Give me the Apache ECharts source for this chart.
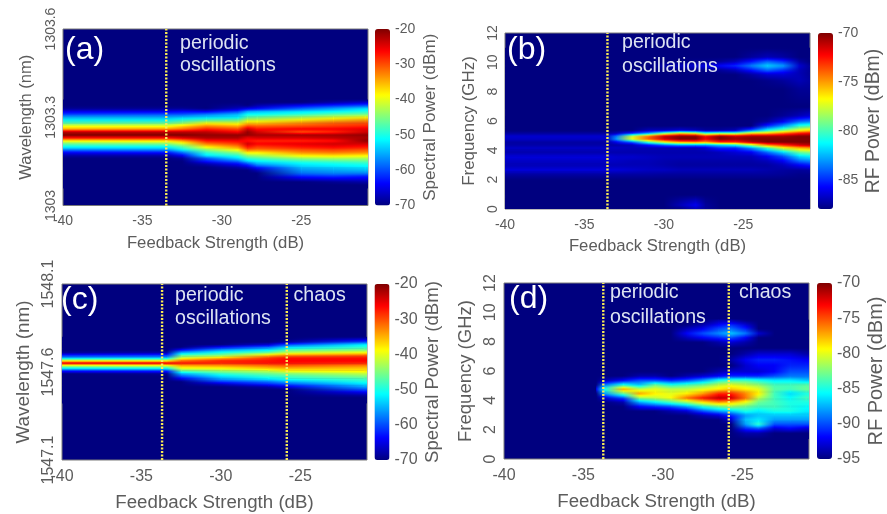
<!DOCTYPE html>
<html><head><meta charset="utf-8">
<style>html,body{margin:0;padding:0;background:#fff}#c{width:887px;height:514px;filter:blur(0.7px)}</style>
<script src="https://cdn.jsdelivr.net/npm/echarts@6/dist/echarts.min.js"></script></head>
<body><div id="c"></div>
<script>
const xTicks=[-40,-35,-30,-25];
const jet=['#00007f','#0000ff','#007fff','#00ffff','#7fff7f','#ffff00','#ff7f00','#ff0000','#7f0000'];

// (a) feedback columns, wavelength rows, one spectrum per column
const aX=[-40,-33.5,-32.5,-31,-29,-28.4,-27.8,-25,-23,-21,-20.8];
const aRows=[1303.36,1303.35,1303.34,1303.33,1303.32,1303.31,1303.30,1303.29,1303.28,1303.27,1303.26,1303.25,1303.24,1303.23,1303.22,1303.21,1303.20,1303.19,1303.18,1303.17,1303.16,1303.15,1303.14,1303.13,1303.12,1303.11,1303.10,1303.09,1303.08,1303.07,1303.06];
const aSpectra=[
[-70,-70,-70,-69,-65,-61,-55,-51,-47,-40,-35,-23,-20,-26,-38,-46,-51,-57,-64,-68,-70,-70,-70,-70,-70,-70,-70,-70,-70,-70,-70],
[-70,-70,-70,-69,-65,-60,-55,-51,-46,-40,-34,-23,-20,-26,-37,-45,-51,-56,-63,-68,-70,-70,-70,-70,-70,-70,-70,-70,-70,-70,-70],
[-70,-70,-70,-69,-64,-60,-54,-49,-44,-37,-32,-23,-20,-24,-34,-41,-47,-51,-58,-64,-69,-70,-70,-70,-70,-70,-70,-70,-70,-70,-70],
[-70,-70,-70,-70,-65,-58,-53,-47,-39,-33,-28,-23,-21,-22,-27,-32,-38,-44,-49,-52,-60,-63,-68,-70,-70,-70,-70,-70,-70,-70,-70],
[-70,-70,-69,-67,-61,-55,-52,-46,-40,-35,-30,-26,-21,-22,-26,-29,-33,-38,-44,-49,-53,-59,-64,-68,-70,-70,-70,-70,-70,-70,-70],
[-70,-70,-70,-65,-56,-51,-47,-41,-36,-30,-24,-21,-21,-25,-27,-24,-27,-31,-38,-44,-49,-54,-61,-66,-70,-70,-70,-70,-70,-70,-70],
[-70,-70,-68,-64,-55,-51,-46,-41,-36,-31,-27,-24,-22,-24,-28,-26,-29,-32,-38,-43,-48,-52,-56,-62,-67,-70,-70,-70,-70,-70,-70],
[-70,-70,-64,-59,-53,-49,-43,-38,-33,-30,-26,-30,-22,-24,-28,-25,-27,-30,-33,-38,-44,-49,-52,-54,-56,-58,-62,-66,-70,-70,-70],
[-70,-68,-62,-56,-52,-47,-41,-36,-31,-29,-26,-28,-22,-23,-27,-24,-26,-29,-32,-37,-43,-48,-51,-53,-55,-57,-61,-65,-69,-70,-70],
[-70,-66,-60,-53,-50,-46,-39,-34,-30,-28,-25,-24,-21,-22,-21,-24,-27,-30,-33,-38,-43,-47,-50,-52,-54,-57,-62,-65,-68,-70,-70],
[-70,-66,-60,-53,-50,-46,-39,-34,-30,-28,-25,-24,-21,-22,-21,-24,-27,-30,-33,-38,-43,-47,-50,-52,-54,-57,-62,-65,-68,-70,-70]
];
// (b)
const bX=[-40,-33.6,-33,-32,-31,-30,-29,-28,-27.4,-26.5,-25.5,-24.5,-23.5,-22.5,-21.5,-20.8];
const bRows=[0,0.3,1,2,2.4,2.7,3,3.3,3.6,3.9,4.2,4.4,4.6,4.8,5,5.2,5.4,5.7,6,6.4,7,8.2,8.8,9.2,9.5,9.8,10.1,10.4,11];
const bSpectra=[
[-88,-88,-88,-88,-87.4,-86.4,-87,-86.8,-86.4,-87.2,-86.8,-87.3,-87.4,-86.8,-86.6,-87.5,-88,-88,-88,-88,-88,-88,-88,-88,-88,-88,-88,-88,-88],
[-88,-88,-88,-88,-87.4,-86.4,-87,-86.8,-86.4,-87.2,-86.8,-87.3,-87.4,-86.8,-86.6,-87.5,-88,-88,-88,-88,-88,-88,-88,-88,-88,-88,-88,-88,-88],
[-88,-88,-88,-88,-87.4,-86.4,-87,-86.8,-86.6,-87.2,-86.8,-87.3,-86,-83,-83.5,-87,-88,-88,-88,-88,-88,-88,-88,-88,-88,-88,-88,-88,-88],
[-88,-88,-88,-88,-87.4,-86.6,-87,-87,-86.6,-87.2,-87,-87,-84,-77,-77.5,-85,-88,-88,-88,-88,-88,-88,-88,-88,-88,-88,-88,-88,-88],
[-88,-88,-88,-88,-87.4,-86.8,-87,-87,-86.8,-87.2,-87,-85.5,-80,-74,-74,-83,-87,-88,-88,-88,-88,-88,-88,-88,-88,-88,-88,-88,-88],
[-88,-88,-88,-88,-87.5,-86.8,-87.2,-87.2,-87,-87.2,-87,-84,-77,-71.5,-71,-79,-87,-88,-88,-88,-88,-88,-88,-88,-88,-87.3,-88,-88,-88],
[-88,-87,-88,-88,-87.5,-87,-87.4,-87.3,-87,-87.2,-87,-83,-75,-70,-70,-76,-86.5,-88,-88,-88,-88,-88,-88,-88,-88,-87,-88,-88,-88],
[-87,-86,-88,-88,-87.5,-87,-87.4,-87.3,-87,-87.2,-87,-83,-74.5,-70,-70,-77,-87,-88,-88,-88,-88,-88,-88,-88,-87.8,-86.5,-87.8,-88,-88],
[-87.5,-87.5,-88,-88,-87.5,-87,-87.4,-87.3,-87,-87.2,-86.5,-83,-75,-72,-72,-80,-87.5,-88,-88,-88,-88,-88,-88,-88,-87.8,-86.2,-87.8,-88,-88],
[-88,-88,-88,-88,-87.5,-87,-87.4,-87.3,-87,-87,-85,-82,-73,-70,-70,-79,-87.5,-88,-88,-88,-88,-88,-88,-88,-87.6,-85.8,-87.6,-88,-88],
[-88,-88,-88,-88,-87.5,-87,-87.4,-87.3,-87,-86.5,-85,-81,-73,-70.5,-71,-79,-87,-88,-88,-88,-88,-88,-88,-88,-87,-85,-87,-88,-88],
[-88,-88,-88,-88,-87.5,-87,-87.4,-87.3,-87,-86,-83,-78,-71,-70,-70.5,-76,-84,-88,-88,-88,-88,-88,-88,-87.4,-85.5,-83.5,-85.5,-87.5,-88],
[-88,-88,-88,-88,-87.5,-87.2,-87.4,-87,-86,-84,-80,-74.5,-70,-70,-70.5,-75.5,-81,-85,-87.5,-88,-88,-88,-87.8,-86.6,-84,-82,-84,-87,-88],
[-88,-88,-88,-88,-87.6,-87.4,-87,-86,-84.5,-82,-77,-73,-70,-70,-70.5,-74,-79,-83,-86,-87.6,-88,-88,-87.5,-86.5,-85,-83,-85,-87.4,-88],
[-88,-88,-88,-88,-87.8,-87.5,-86,-84,-82,-79.5,-75.5,-71.5,-70,-70,-70,-72.5,-77,-80.5,-84,-87,-88,-87.6,-87,-87,-87,-86.5,-87.4,-88,-88],
[-88,-88,-88,-88,-87.8,-87.4,-85.5,-83.5,-81.5,-79,-75,-71,-70,-70,-70,-72,-76,-80,-83.5,-86.5,-88,-87.6,-87.4,-87.6,-87.6,-87.6,-88,-88,-88]
];
// (c)
const cX=[-40,-33.4,-32.5,-30,-27,-25.8,-21,-20.8];
const cRows=[1547.80,1547.785,1547.77,1547.755,1547.74,1547.725,1547.71,1547.695,1547.68,1547.665,1547.65,1547.635,1547.62,1547.605,1547.59,1547.575,1547.56,1547.545,1547.53,1547.515,1547.50,1547.485,1547.47,1547.455,1547.44,1547.425];
const cSpectra=[
[-70,-70,-70,-70,-70,-70,-69,-62,-55,-40,-25,-42,-52,-63,-70,-70,-70,-70,-70,-70,-70,-70,-70,-70,-70,-70],
[-70,-70,-70,-70,-70,-70,-68,-61,-54,-40,-25,-41,-51,-62,-69,-70,-70,-70,-70,-70,-70,-70,-70,-70,-70,-70],
[-70,-70,-70,-70,-70,-63,-55,-47,-41,-32,-27,-35,-40,-47,-55,-60,-65,-70,-70,-70,-70,-70,-70,-70,-70,-70],
[-70,-70,-70,-70,-63,-56,-50,-45,-36,-28,-28,-34,-39,-44,-49,-53,-56,-61,-67,-70,-70,-70,-70,-70,-70,-70],
[-70,-70,-70,-66,-58,-52,-46,-36,-29,-27,-27,-32,-36,-42,-46,-49,-52,-58,-62,-68,-70,-70,-70,-70,-70,-70],
[-70,-70,-68,-60,-53,-47,-42,-33,-27,-26,-27,-31,-35,-39,-45,-48,-50,-55,-60,-65,-70,-70,-70,-70,-70,-70],
[-70,-66,-60,-52,-49,-45,-39,-31,-27,-26,-28,-33,-36,-38,-42,-45,-48,-50,-53,-56,-60,-64,-68,-70,-70,-70],
[-70,-66,-60,-52,-49,-45,-39,-31,-27,-26,-28,-33,-36,-38,-42,-45,-48,-50,-53,-56,-60,-64,-68,-70,-70,-70]
];
// (d)
const dX=[-34.2,-33.7,-32.5,-31.5,-30.5,-29.5,-28.5,-27.5,-26.5,-25.7,-24.8,-24,-23,-22,-21,-20.8];
const dRows=[1.4,1.8,2.1,2.4,2.7,3,3.3,3.6,3.9,4.2,4.5,4.8,5.1,5.4,5.7,6,6.4,6.8,7.2,7.6,8,8.3,8.6,8.9,9.2,9.5];
const dSpectra=[
[-95,-95,-95,-95,-95,-95,-95,-95,-95,-95,-95,-92,-95,-95,-95,-95,-95,-95,-95,-95,-95,-95,-95,-95,-95,-95],
[-95,-95,-95,-95,-95,-95,-95,-95,-95,-93,-88,-85,-89,-94,-95,-95,-95,-95,-95,-95,-95,-95,-95,-95,-95,-95],
[-95,-95,-95,-95,-95,-95,-95,-95,-94,-90,-83,-77,-85,-92,-95,-95,-95,-95,-95,-95,-95,-95,-95,-95,-95,-95],
[-95,-95,-95,-95,-95,-95,-95,-92,-88,-82,-77,-81,-87,-90,-94,-95,-95,-95,-95,-95,-95,-95,-95,-95,-95,-95],
[-95,-95,-95,-95,-95,-95,-95,-91,-86,-81,-79,-80,-83,-90,-94,-95,-95,-95,-95,-95,-95,-95,-95,-95,-95,-95],
[-95,-95,-95,-95,-95,-95,-94,-90,-84,-79.5,-80,-81,-85,-91,-95,-95,-95,-95,-95,-95,-95,-95,-95,-95,-95,-95],
[-95,-95,-95,-95,-95,-95,-93,-88,-82,-76,-79,-81,-84,-90,-94,-95,-95,-95,-95,-95,-95,-93.5,-92,-93.5,-95,-95],
[-95,-95,-95,-95,-95,-94,-90,-85,-79,-73.5,-77,-80,-83,-88,-93,-95,-95,-95,-95,-95,-95,-92,-90,-92,-94,-95],
[-95,-95,-95,-95,-95,-93,-88,-83,-77,-71.5,-74,-79,-81,-85,-92,-94,-95,-95,-95,-95,-94,-91,-88.5,-90,-92,-94],
[-95,-95,-95,-95,-93,-91,-87,-82,-78,-72,-74,-78,-80,-84,-91,-93,-95,-94,-95,-95,-93,-90,-87,-89,-91,-94],
[-95,-94,-91,-88,-87,-88,-85,-83,-80,-76,-76.5,-79,-81,-84,-91,-93,-93,-92,-94,-95,-94,-92,-89,-91,-93,-95],
[-95,-94,-90,-84.5,-86,-87,-86,-84,-83,-81,-79,-80,-82,-85,-91,-93,-92,-91,-93,-95,-95,-95,-93,-95,-95,-95],
[-95,-95,-93,-90,-88,-87,-85,-84,-84,-84,-84,-83.5,-84,-86,-90,-92,-92,-91,-93,-95,-95,-95,-95,-95,-95,-95],
[-95,-95,-92,-90,-88,-87,-85,-85,-85,-85.5,-86.5,-84,-84,-86,-89,-90,-91,-91.5,-93,-95,-95,-95,-95,-95,-95,-95],
[-95,-95,-93,-90,-88,-87,-86,-85.5,-85,-84,-85,-83,-83.5,-87,-89,-90,-91,-92,-94,-95,-95,-95,-95,-95,-95,-95],
[-95,-95,-93,-90,-88,-87,-86,-85.5,-85,-84,-85,-83,-83.5,-87,-89,-90,-91,-92,-94,-95,-95,-95,-95,-95,-95,-95]
];
const panels=[
 {x:aX,rows:aRows,z:aSpectra,lines:[-33.5],ymin:1303,ymax:1303.6,yt:[1303,1303.3,1303.6],yn:'Wavelength (nm)',cn:'Spectral Power (dBm)',cmin:-70,cmax:-20,ct:[-70,-60,-50,-40,-30,-20],box:[63,29,305,176.5],cl:375,fs:14,xs:16.7,ys:16.5,cs:17.1,xg:29,yg:28,cg:32,letter:'(a)',lp:[65,50],notes:[['periodic',180,44],['oscillations',180,66]]},
 {x:bX,rows:bRows,z:bSpectra,lines:[-33.55],ymin:0,ymax:12,yt:[0,2,4,6,8,10,12],yn:'Frequency (GHz)',cn:'RF Power (dBm)',cmin:-88,cmax:-70,ct:[-85,-80,-75,-70],box:[505,33,305,176],cl:818,fs:14,xs:16.7,ys:16.9,cs:19.4,xg:29,yg:27,cg:31,letter:'(b)',lp:[507,50],notes:[['periodic',622,43],['oscillations',622,67]]},
 {x:cX,rows:cRows,z:cSpectra,lines:[-33.7,-25.85],ymin:1547.1,ymax:1548.1,yt:[1547.1,1547.6,1548.1],yn:'Wavelength (nm)',cn:'Spectral Power (dBm)',cmin:-70,cmax:-20,ct:[-70,-60,-50,-40,-30,-20],box:[62,284,305,176],cl:374.5,fs:16,xs:18.7,ys:18.9,cs:18.6,xg:33,yg:29,cg:34,letter:'(c)',lp:[61,300],notes:[['periodic',175,296],['oscillations',175,319],['chaos',293.5,296]]},
 {x:dX,rows:dRows,z:dSpectra,lines:[-33.75,-25.85],ymin:0,ymax:12,yt:[0,2,4,6,8,10,12],yn:'Frequency (GHz)',cn:'RF Power (dBm)',cmin:-95,cmax:-70,ct:[-95,-90,-85,-80,-75,-70],box:[504,283,305,176],cl:817,fs:16,xs:18.7,ys:18.5,cs:20,xg:33,yg:29,cg:34,letter:'(d)',lp:[509,299],notes:[['periodic',610,293],['oscillations',610,318],['chaos',739,293]]}
];
const XMIN=-40,XMAX=-20.8,txt='#5c5c5c',font='"Liberation Sans",Arial,sans-serif';
// one record per patch between neighbouring read rows and columns
function cells(p){
 const out=[],r=p.rows;
 for(let i=0;i<r.length-1;i++)
  for(let j=0;j<p.x.length-1;j++)
   out.push([p.x[j],p.x[j+1],r[i],r[i+1],p.z[j][i],p.z[j+1][i],p.z[j][i+1],p.z[j+1][i+1]]);
 return out;
}
const grid=[],xAxis=[],yAxis=[],series=[],visualMap=[],graphic=[];
panels.forEach((p,k)=>{
 const [l,t,w,h]=p.box;
 grid.push({left:l,top:t,width:w,height:h,show:true,backgroundColor:jet[0],borderColor:'#7a7a7a',borderWidth:1});
 xAxis.push({gridIndex:k,type:'value',min:XMIN,max:XMAX,splitLine:{show:false},axisLine:{show:false},axisTick:{show:false},
  axisLabel:{customValues:xTicks,color:txt,fontSize:p.fs,fontFamily:font,margin:9},
  name:'Feedback Strength (dB)',nameLocation:'middle',nameGap:p.xg,nameTextStyle:{color:txt,fontSize:p.xs,fontFamily:font}});
 yAxis.push({gridIndex:k,type:'value',min:p.ymin,max:p.ymax,splitLine:{show:false},axisLine:{show:false},axisTick:{show:false},
  axisLabel:{customValues:p.yt,formatter:v=>String(v),rotate:90,color:txt,fontSize:p.fs,fontFamily:font,margin:5},
  name:p.yn,nameLocation:'middle',nameRotate:90,nameGap:p.yg,nameTextStyle:{color:txt,fontSize:p.ys,fontFamily:font}});
 const span=p.cmax-p.cmin;
 const colorOf=v=>echarts.color.lerp((v-p.cmin)/span,jet);
 series.push({type:'custom',coordinateSystem:'cartesian2d',xAxisIndex:k,yAxisIndex:k,data:cells(p),clip:true,silent:true,animation:false,z:2,
  dimensions:['x0','x1','y0','y1','v0','v1','v2','v3'],encode:{x:[0,1],y:[2,3]},
  renderItem:(params,api)=>{
   const a=api.coord([api.value(0),api.value(2)]),b=api.coord([api.value(1),api.value(3)]);
   const v=[4,5,6,7].map(i=>api.value(i));
   const wpx=b[0]-a[0],hpx=b[1]-a[1],n=Math.max(1,Math.ceil(Math.abs(hpx))),children=[];
   for(let s=0;s<n;s++){
    const f=(s+0.5)/n,vl=v[0]+(v[2]-v[0])*f,vr=v[1]+(v[3]-v[1])*f;
    const y0=a[1]+hpx*s/n,yh=hpx/n;
    children.push({type:'rect',shape:{x:a[0],y:Math.min(y0,y0+yh),width:wpx+0.6,height:Math.abs(yh)+0.6},
     style:{fill:new echarts.graphic.LinearGradient(0,0,1,0,[{offset:0,color:colorOf(vl)},{offset:1,color:colorOf(vr)}])}});
   }
   return {type:'group',children};
  }});
 visualMap.push({type:'continuous',seriesIndex:k,dimension:4,min:p.cmin,max:p.cmax,left:p.cl,top:t,itemWidth:15,itemHeight:h,padding:0,showLabel:false,text:null,calculable:false,realtime:false,inRange:{color:jet}});
});
panels.forEach((p,k)=>{
 const [l,t,w,h]=p.box,i=4+k;
 grid.push({left:p.cl,top:t,width:15,height:h,show:false});
 xAxis.push({gridIndex:i,type:'value',show:false,min:0,max:1});
 yAxis.push({gridIndex:i,type:'value',position:'right',min:p.cmin,max:p.cmax,splitLine:{show:false},axisLine:{show:false},axisTick:{show:false},
  axisLabel:{customValues:p.ct,color:txt,fontSize:p.fs,fontFamily:font,margin:5},
  name:p.cn,nameLocation:'middle',nameRotate:90,nameGap:p.cg,nameTextStyle:{color:txt,fontSize:p.cs,fontFamily:font}});
});
panels.forEach((p,k)=>{
 p.lines.forEach(x=>series.push({type:'line',xAxisIndex:k,yAxisIndex:k,data:[[x,p.ymin],[x,p.ymax]],symbol:'none',silent:true,animation:false,z:5,
  lineStyle:{color:'#f7ea55',width:2.4,type:[2,1.5]}}));
 graphic.push({type:'text',z:10,x:p.lp[0],y:p.lp[1],style:{text:p.letter,fill:'#ffffff',font:'32px '+font,textVerticalAlign:'middle'}});
 p.notes.forEach(n=>graphic.push({type:'text',z:10,x:n[1],y:n[2],style:{text:n[0],fill:'#dde3f2',font:'19.6px '+font,textVerticalAlign:'middle'}}));
});
const chart=echarts.init(document.getElementById('c'),null,{renderer:'canvas'});
chart.setOption({animation:false,backgroundColor:'#fff',grid,xAxis,yAxis,series,visualMap,graphic,tooltip:{show:false}});
</script></body></html>
